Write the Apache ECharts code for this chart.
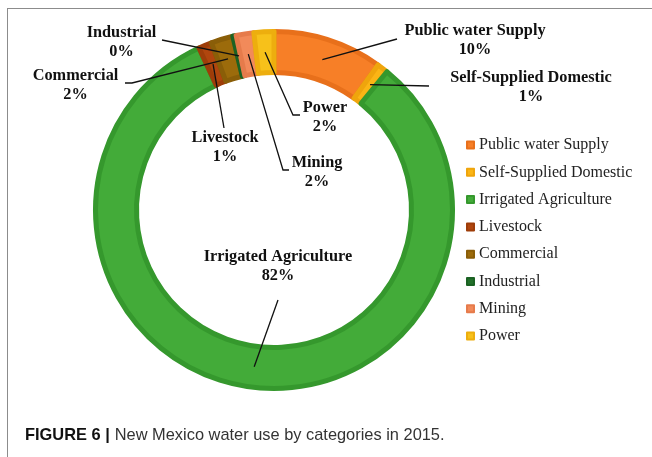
<!DOCTYPE html>
<html>
<head>
<meta charset="utf-8">
<script src="https://cdn.jsdelivr.net/npm/echarts@6/dist/echarts.min.js"></script>
<style>
  html, body { margin: 0; padding: 0; background: #fff; }
  #frame { position: absolute; left: 7px; top: 8px; width: 700px; height: 500px;
           border-left: 1px solid #8c8c8c; border-top: 1px solid #8c8c8c; }
  #chart { position: absolute; left: 0; top: 0; width: 652px; height: 457px; }
</style>
</head>
<body>
<div id="frame"></div>
<div id="chart"></div>
<script>
// Water use categories, clockwise from 12 o'clock
const categories = [
  'Public water Supply', 'Self-Supplied Domestic', 'Irrigated Agriculture',
  'Livestock', 'Commercial', 'Industrial', 'Mining', 'Power'
];
// Share of total water use (%)
const shares = [9.9, 1.0, 82.2, 1.2, 2.0, 0.3, 1.6, 1.8];

// Segment fill and edge colours
const fillColors = ['#F77F27', '#FBB515', '#43AB39', '#B0460E', '#9C6B0B', '#22702A', '#F28A5A', '#F7C11A'];
const edgeColors = ['#E8701B', '#EFA50C', '#35982D', '#9E3D09', '#8A5E08', '#1B6223', '#E67B4B', '#EDAE0E'];

// Label centres and leader-line routes (label end first); the segment anchor is added at draw time
const labelSpots = [
  { x: 475,   y: 40,  line: [[397, 39], [397, 39]] },
  { x: 531,   y: 87,  line: [[429, 86], [429, 86]] },
  { x: 278,   y: 266, line: [[278, 300], [278, 300]] },
  { x: 225,   y: 147, line: [[224, 128], [224, 128]] },
  { x: 75.5,  y: 85,  line: [[125, 83], [132, 83]] },
  { x: 121.5, y: 42,  line: [[162, 40], [162, 40]] },
  { x: 317,   y: 172, line: [[289, 170], [283, 170]] },
  { x: 325,   y: 117, line: [[300, 115], [293, 115]] }
];

const ringCenter = [274, 210];
const ringRadius = [137.5, 178.5];

const chart = echarts.init(document.getElementById('chart'), null, { renderer: 'canvas' });

const ringData = categories.map((name, i) => ({
  name: name,
  value: shares[i],
  itemStyle: { color: fillColors[i], borderColor: edgeColors[i], borderWidth: 5 }
}));
const labelData = categories.map((name, i) => ({ name: name, value: shares[i] }));

chart.setOption({
  animation: false,
  title: {
    text: '{b|FIGURE 6 |} {n|New Mexico water use by categories in 2015.}',
    left: 20,
    top: 421,
    textStyle: {
      rich: {
        b: { fontFamily: 'Liberation Sans', fontWeight: 'bold', fontSize: 16.4, color: '#111' },
        n: { fontFamily: 'Liberation Sans', fontWeight: 'normal', fontSize: 16.4, color: '#333' }
      }
    }
  },
  legend: {
    orient: 'vertical',
    left: 461,
    top: 131,
    itemWidth: 7,
    itemHeight: 7,
    itemGap: 9.3,
    icon: 'rect',
    data: categories,
    textStyle: { fontFamily: 'Liberation Serif', fontSize: 16, color: '#222', lineHeight: 18 }
  },
  series: [
    {
      // the coloured ring
      type: 'pie',
      z: 2,
      center: ringCenter,
      radius: ringRadius,
      startAngle: 90,
      clockwise: true,
      silent: true,
      data: ringData,
      label: { show: false },
      labelLine: { show: false }
    },
    {
      // labels and leader lines, drawn above the ring
      type: 'pie',
      z: 3,
      center: ringCenter,
      radius: ringRadius,
      startAngle: 90,
      clockwise: true,
      silent: true,
      avoidLabelOverlap: false,
      percentPrecision: 0,
      data: labelData,
      itemStyle: { color: 'rgba(0,0,0,0)', borderWidth: 0 },
      label: {
        show: true,
        position: 'outside',
        formatter: '{b}\n{d}%',
        fontFamily: 'Liberation Serif',
        fontWeight: 'bold',
        fontSize: 16.3,
        lineHeight: 19,
        color: '#111',
        align: 'center'
      },
      labelLine: {
        show: true,
        smooth: false,
        lineStyle: { color: '#111', width: 1.3 }
      },
      labelLayout: function (params) {
        const i = params.dataIndex;
        const spot = labelSpots[i];
        const lay = chart.getModel().getSeriesByIndex(params.seriesIndex).getData().getItemLayout(i);
        const mid = (lay.startAngle + lay.endAngle) / 2;
        const rm = (lay.r + lay.r0) / 2;
        const anchor = [lay.cx + rm * Math.cos(mid), lay.cy + rm * Math.sin(mid)];
        return {
          x: spot.x,
          y: spot.y,
          align: 'center',
          verticalAlign: 'middle',
          labelLinePoints: [spot.line[0], spot.line[1], anchor]
        };
      }
    }
  ]
});
</script>
</body>
</html>
